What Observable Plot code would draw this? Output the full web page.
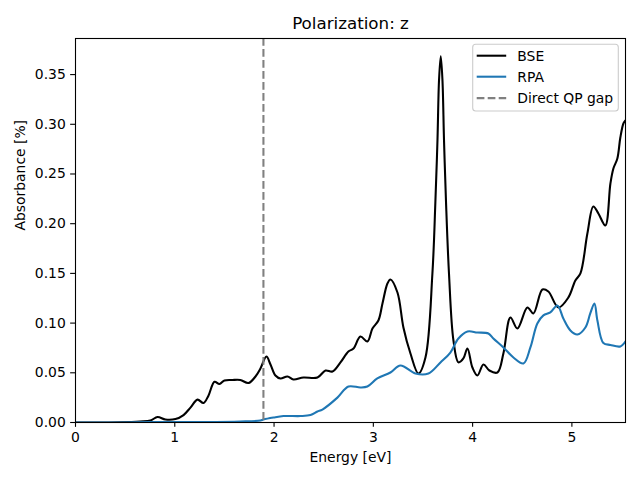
<!DOCTYPE html>
<html>
<head>
<meta charset="utf-8">
<script src="https://cdn.jsdelivr.net/npm/d3@7"></script>
<script src="https://cdn.jsdelivr.net/npm/@observablehq/plot@0.6"></script>
<style>
  html, body { margin: 0; padding: 0; background: #ffffff; }
</style>
</head>
<body>
<div id="chart"></div>
<script>
// ---- Data ----
const bseEnergy = [0, 0.25, 0.45, 0.65, 0.755, 0.826, 0.906, 1.007, 1.088, 1.158, 1.229, 1.289, 1.339, 1.40, 1.45, 1.50, 1.58, 1.66, 1.742, 1.813, 1.863, 1.923, 1.964, 2.014, 2.064, 2.135, 2.195, 2.296, 2.437, 2.518, 2.588, 2.669, 2.749, 2.80, 2.87, 2.94, 2.991, 3.051, 3.092, 3.142, 3.172, 3.243, 3.303, 3.374, 3.454, 3.525, 3.595, 3.625, 3.646, 3.662, 3.679, 3.696, 3.712, 3.732, 3.762, 3.807, 3.857, 3.907, 3.948, 3.998, 4.048, 4.109, 4.169, 4.25, 4.31, 4.381, 4.451, 4.552, 4.612, 4.703, 4.763, 4.864, 4.965, 5.035, 5.086, 5.156, 5.216, 5.267, 5.337, 5.388, 5.418, 5.458, 5.488, 5.519, 5.539];
const bseValue = [0, 0, 0.0002, 0.001, 0.002, 0.0055, 0.003, 0.0035, 0.0075, 0.015, 0.023, 0.0196, 0.027, 0.041, 0.0387, 0.0423, 0.0428, 0.0428, 0.0397, 0.0463, 0.0543, 0.0664, 0.0584, 0.0473, 0.0443, 0.0463, 0.0433, 0.0453, 0.0453, 0.0523, 0.0513, 0.0604, 0.0714, 0.0744, 0.0865, 0.0815, 0.0946, 0.1026, 0.1197, 0.1398, 0.1439, 0.1308, 0.0956, 0.0694, 0.0493, 0.0654, 0.1499, 0.222, 0.2837, 0.345, 0.3685, 0.345, 0.2837, 0.222, 0.1499, 0.0825, 0.0605, 0.0644, 0.0745, 0.0553, 0.0473, 0.0584, 0.0523, 0.0503, 0.0694, 0.1056, 0.0946, 0.1157, 0.1097, 0.1338, 0.1318, 0.1157, 0.1258, 0.1429, 0.150, 0.1901, 0.2173, 0.2103, 0.1982, 0.2404, 0.2555, 0.2656, 0.2867, 0.3008, 0.3038];

const rpaEnergy = [0, 0.45, 0.755, 1.259, 1.66, 1.863, 1.893, 1.994, 2.095, 2.266, 2.367, 2.437, 2.487, 2.638, 2.749, 2.87, 2.94, 3.04, 3.172, 3.273, 3.424, 3.555, 3.676, 3.776, 3.857, 3.948, 4.048, 4.159, 4.209, 4.31, 4.411, 4.512, 4.582, 4.652, 4.713, 4.783, 4.854, 4.914, 4.985, 5.055, 5.136, 5.186, 5.227, 5.257, 5.317, 5.388, 5.488, 5.539];
const rpaValue = [0, 0, 0.0005, 0.0005, 0.001, 0.002, 0.003, 0.005, 0.0065, 0.0065, 0.0075, 0.011, 0.013, 0.025, 0.0362, 0.0352, 0.0362, 0.0443, 0.0503, 0.0574, 0.0493, 0.0493, 0.0604, 0.0704, 0.0845, 0.0915, 0.0905, 0.0895, 0.0845, 0.0755, 0.0654, 0.0594, 0.0755, 0.0996, 0.1077, 0.1107, 0.1177, 0.1046, 0.0926, 0.0885, 0.0956, 0.110, 0.1197, 0.1026, 0.080, 0.078, 0.0765, 0.0815];

const directQPGap = [1.893];

const xTicks = [0, 1, 2, 3, 4, 5];
const yTicks = [0, 0.05, 0.10, 0.15, 0.20, 0.25, 0.30, 0.35];

const seriesNames = ["BSE", "RPA", "Direct QP gap"];
const seriesColors = ["#000000", "#1f77b4", "#808080"];
const titleText = "Polarization: z";
const xLabel = "Energy [eV]";
const yLabel = "Absorbance [%]";

// ---- Build tables ----
const bse = bseEnergy.map((e, i) => ({energy: e, value: bseValue[i]}));
const rpa = rpaEnergy.map((e, i) => ({energy: e, value: rpaValue[i]}));

const FONT = "DejaVu Sans, Liberation Sans, sans-serif";
const fs = 13.9;

const chart = Plot.plot({
  width: 640,
  height: 480,
  marginLeft: 75,
  marginRight: 15,
  marginTop: 38,
  marginBottom: 58,
  style: {fontFamily: FONT, fontSize: fs + "px", background: "#ffffff", color: "#000"},
  x: {domain: [0, 5.54], label: null},
  y: {domain: [0, 0.3863], label: null},
  marks: [
    Plot.line(bse, {x: "energy", y: "value", stroke: seriesColors[0], strokeWidth: 2.08, curve: "catmull-rom", clip: true}),
    Plot.line(rpa, {x: "energy", y: "value", stroke: seriesColors[1], strokeWidth: 2.08, curve: "catmull-rom", clip: true}),
    Plot.ruleX(directQPGap, {stroke: seriesColors[2], strokeWidth: 2.08, strokeDasharray: "7.7,3.3"}),
    Plot.frame({stroke: "#000", strokeWidth: 1.1}),
    Plot.axisX({ticks: xTicks, tickFormat: d => String(d), tickSize: 4.86, tickPadding: 4.86, strokeWidth: 1.1, fontSize: fs, label: null}),
    Plot.axisY({ticks: yTicks, tickFormat: d3.format(".2f"), tickSize: 4.86, tickPadding: 4.86, strokeWidth: 1.1, fontSize: fs, label: null}),
    Plot.text([titleText], {text: d => d, frameAnchor: "top", lineAnchor: "middle", dy: -15, fontSize: 16.7}),
    Plot.text([xLabel], {text: d => d, frameAnchor: "bottom", lineAnchor: "middle", dy: 35, fontSize: fs}),
    Plot.text([yLabel], {text: d => d, frameAnchor: "left", lineAnchor: "middle", dx: -55, rotate: -90, fontSize: fs})
  ]
});

// ---- Legend ----
const svg = d3.select(chart);
const lg = svg.append("g").attr("font-family", FONT).attr("font-size", fs).attr("text-anchor", "start");
lg.append("rect")
  .attr("x", 472.7).attr("y", 44.3).attr("width", 145.6).attr("height", 66.7)
  .attr("rx", 3).attr("fill", "#ffffff").attr("fill-opacity", 0.8)
  .attr("stroke", "#cccccc").attr("stroke-width", 1.1);
const rowY = [55.7, 76.7, 98.1];
seriesNames.forEach((name, i) => {
  lg.append("line")
    .attr("x1", 476.7).attr("x2", 506.2).attr("y1", rowY[i]).attr("y2", rowY[i])
    .attr("stroke", seriesColors[i]).attr("stroke-width", 2.08)
    .attr("stroke-dasharray", i === 2 ? "7.7,3.3" : null);
  lg.append("text")
    .attr("x", 517.3).attr("y", rowY[i]).attr("dy", "0.35em")
    .attr("text-anchor", "start")
    .attr("fill", "#000").text(name);
});

document.getElementById("chart").appendChild(chart);
</script>
</body>
</html>
